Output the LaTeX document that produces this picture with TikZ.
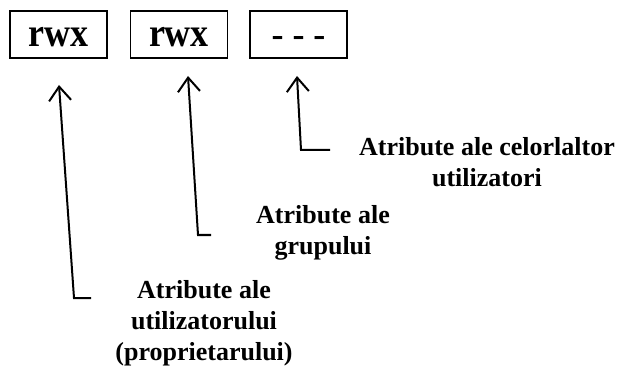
\documentclass[tikz,border=0pt]{standalone}
\usepackage{fontspec}
\setmainfont{Liberation Serif}
\usetikzlibrary{arrows.meta}
\begin{document}
\begin{tikzpicture}[x=1pt,y=-1pt,
  permbox/.style={draw,line width=1.6pt,minimum width=97pt,minimum height=47pt,
    inner sep=0pt,text height=25pt,text depth=0pt,
    font=\fontsize{36}{36}\selectfont\bfseries},
  label/.style={align=center,font=\fontsize{26}{31}\selectfont\bfseries},
  pointer/.style={line width=2pt,-{Straight Barb[length=14pt,width=22pt,line width=2pt]}}]
  \useasboundingbox (0,0) rectangle (621,366);
  % permission groups
  \node[permbox] (u) at (58.5,34.5) {\scalebox{1}[1.12]{rwx}};
  \node[permbox] (g) at (179,34.5) {\scalebox{1}[1.12]{rwx}};
  \node[permbox] (o) at (298.5,34.5) {- - -};
  % descriptions
  \node[label] (lu) at (204,323) {Atribute ale\\utilizatorului\\(proprietarului)};
  \node[label] (lg) at (323,233) {Atribute ale\\grupului};
  \node[label] (lo) at (487,162) {Atribute ale celorlaltor\\utilizatori};
  % pointer anchors
  \coordinate (uend) at (91,298);
  \coordinate (ucorner) at (74,298);
  \coordinate (utip) at (59,85);
  \coordinate (gend) at (211,235);
  \coordinate (gcorner) at (198,235);
  \coordinate (gtip) at (188,76);
  \coordinate (oend) at (330,150);
  \coordinate (ocorner) at (301,150);
  \coordinate (otip) at (297,76);
  \draw[pointer] (uend) -- (ucorner) -- (utip);
  \draw[pointer] (gend) -- (gcorner) -- (gtip);
  \draw[pointer] (oend) -- (ocorner) -- (otip);
\end{tikzpicture}
\end{document}
